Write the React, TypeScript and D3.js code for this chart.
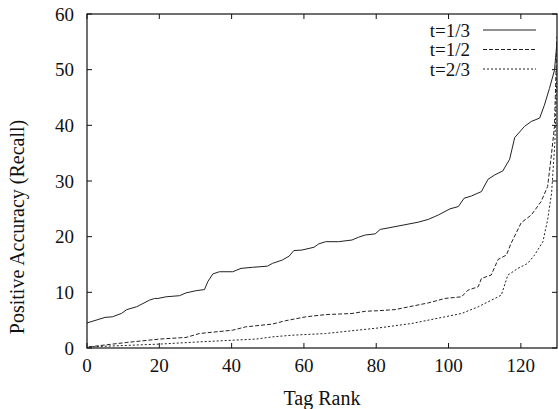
import React from "react";
import { scaleLinear, line } from "d3";

const width = 559;
const height = 409;
const margin = { top: 14, right: 1, bottom: 61, left: 87 };

const xTicks = [0, 20, 40, 60, 80, 100, 120];
const yTicks = [0, 10, 20, 30, 40, 50, 60];

const seriesNames = ["t=1/3", "t=1/2", "t=2/3"];
const seriesDash = ["none", "4,2", "2,2"];

// t=1/3 (solid)
const rankA = [0, 5, 7, 9.5, 11, 13.7, 17.3, 18.7, 19.6, 21.9, 25.6, 27.4, 30.2, 32.5, 33.4, 34.8, 36.6, 40.3, 42.6, 45.8, 49.9, 51.3, 54, 55.9, 57.2, 59.5, 62.8, 64.1, 66, 69.6, 73.3, 75.1, 77, 79.7, 81.1, 85.2, 91.6, 94.4, 97.2, 100.4, 102.7, 104.3, 106.3, 109.1, 110.9, 112.8, 115, 116.9, 118.3, 121, 122.9, 125.2, 126.5, 127.9, 129.3, 130];
const valA = [4.5, 5.5, 5.6, 6.2, 6.9, 7.4, 8.6, 8.9, 8.9, 9.2, 9.4, 9.9, 10.3, 10.5, 11.9, 13.3, 13.7, 13.7, 14.3, 14.5, 14.7, 15.2, 15.8, 16.5, 17.5, 17.6, 18.1, 18.7, 19.1, 19.1, 19.4, 19.9, 20.3, 20.5, 21.3, 21.8, 22.6, 23.1, 23.9, 25.0, 25.4, 26.9, 27.3, 28.1, 30.3, 31.1, 31.8, 33.9, 37.8, 39.8, 40.7, 41.3, 43.6, 46.6, 49.9, 55];

// t=1/2 (dashed)
const rankB = [0.5, 11, 20, 27.4, 31.1, 40.3, 43.9, 51.3, 54.9, 60.5, 66, 73.3, 77, 80.6, 85.2, 94.4, 99, 103.6, 105.4, 108.2, 109.1, 111.8, 113.7, 116, 117.3, 120.1, 122.9, 125.6, 127.4, 128.3, 129.3, 130];
const valB = [0.2, 1.0, 1.6, 1.9, 2.6, 3.2, 3.8, 4.3, 4.9, 5.6, 6.0, 6.2, 6.6, 6.7, 6.9, 8.1, 8.9, 9.2, 10.4, 11.0, 12.5, 13.1, 15.9, 16.7, 18.8, 22.5, 23.9, 26.3, 29.0, 33.8, 39.8, 56];

// t=2/3 (dotted)
const rankC = [0.5, 20, 31.1, 40.3, 46.7, 51.3, 56.8, 66, 73.3, 80.6, 89.8, 99, 103.6, 108.2, 112.8, 114.6, 116.4, 119.2, 121.9, 123.8, 126.1, 127.4, 128.5, 129.4, 130];
const valC = [0.2, 0.7, 1.1, 1.4, 1.6, 2.0, 2.3, 2.6, 3.1, 3.6, 4.4, 5.6, 6.2, 7.4, 8.9, 9.5, 13.1, 14.3, 15.2, 16.7, 19.1, 23.0, 27.8, 36.8, 50];

const seriesRanks = [rankA, rankB, rankC];
const seriesVals = [valA, valB, valC];

const textStyle = { fontFamily: '"Liberation Serif", "Times New Roman", serif' };

export default function App() {
  const x = scaleLinear().domain([0, 130]).range([margin.left, width - margin.right - 1]);
  const y = scaleLinear().domain([0, 60]).range([height - margin.bottom, margin.top]);
  const x0 = x.range()[0], x1 = x.range()[1];
  const y0 = y.range()[0], y1 = y.range()[1];
  const tick = 5;
  const path = line<[number, number]>().x(d => x(d[0])).y(d => y(d[1]));

  return (
    <div style={{ position: "fixed", left: 0, top: 0 }}>
      <svg width={width} height={height} style={{ display: "block", background: "#fff", ...textStyle }}>
        <defs>
          <clipPath id="plot">
            <rect x={x0} y={y1} width={x1 - x0} height={y0 - y1} />
          </clipPath>
        </defs>
        {/* frame */}
        <rect x={x0} y={y1} width={x1 - x0} height={y0 - y1} fill="none" stroke="#111" strokeWidth={1.2} />
        {yTicks.map(t => (
          <g key={"y" + t}>
            <line x1={x0} x2={x0 + tick} y1={y(t)} y2={y(t)} stroke="#111" />
            <line x1={x1} x2={x1 - tick} y1={y(t)} y2={y(t)} stroke="#111" />
            <text x={x0 - 13} y={y(t)} dy="0.35em" textAnchor="end" fontSize={19} fill="#111" style={textStyle}>{t}</text>
          </g>
        ))}
        {xTicks.map(t => (
          <g key={"x" + t}>
            <line x1={x(t)} x2={x(t)} y1={y0} y2={y0 - tick} stroke="#111" />
            <line x1={x(t)} x2={x(t)} y1={y1} y2={y1 + tick} stroke="#111" />
            <text x={x(t)} y={y0 + 24} textAnchor="middle" fontSize={19} fill="#111" style={textStyle}>{t}</text>
          </g>
        ))}
        <text x={(x0 + x1) / 2} y={405} textAnchor="middle" fontSize={20} fill="#111" style={textStyle}>Tag Rank</text>
        <text transform={`translate(24, ${(y0 + y1) / 2 + 46}) rotate(-90)`} textAnchor="middle" fontSize={20} fill="#111" style={textStyle}>
          Positive Accuracy (Recall)
        </text>
        <g clipPath="url(#plot)">
          {seriesNames.map((name, i) => (
            <path
              key={name}
              d={path(seriesRanks[i].map((r, j) => [r, seriesVals[i][j]] as [number, number])) || ""}
              fill="none"
              stroke="#222"
              strokeWidth={1}
              strokeDasharray={seriesDash[i]}
            />
          ))}
        </g>
        {seriesNames.map((name, i) => {
          const ly = 30 + i * 19.5;
          return (
            <g key={"leg" + name}>
              <text x={470} y={ly} dy="0.35em" textAnchor="end" fontSize={19} fill="#111" style={textStyle}>{name}</text>
              <line x1={483} x2={536} y1={ly} y2={ly} stroke="#222" strokeWidth={1} strokeDasharray={seriesDash[i]} />
            </g>
          );
        })}
      </svg>
    </div>
  );
}
